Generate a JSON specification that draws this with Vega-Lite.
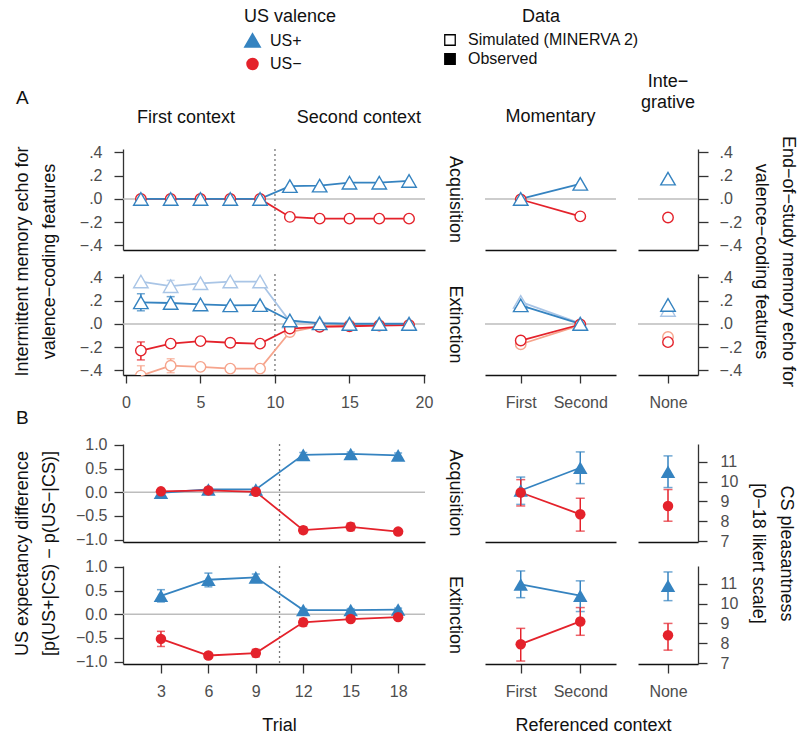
{
"$schema": "https://vega.github.io/schema/vega-lite/v6.json",
"background": "white",
"padding": {"left": 13, "top": 8, "right": 0, "bottom": 0},
"config": {
  "font": "Liberation Sans",
  "view": {"stroke": null},
  "axis": {"grid": false, "labelFlush": false, "labelOverlap": false, "labelColor": "#4d4d4d", "labelFontSize": 16, "titleFontSize": 18, "titleFontWeight": "normal", "titleColor": "#111111", "tickColor": "#333333", "domainColor": "#333333", "tickWidth": 1.3, "domainWidth": 1.3},
  "title": {"fontSize": 18, "fontWeight": "normal", "color": "#111111", "frame": "group"},
  "legend": {"titleFontWeight": "normal"}
},
"datasets": {
  "echoTrial": [
    {"phase":"Acquisition","model":"main","valence":"US−","trial":1,"echo":0},
    {"phase":"Acquisition","model":"main","valence":"US−","trial":3,"echo":0},
    {"phase":"Acquisition","model":"main","valence":"US−","trial":5,"echo":0},
    {"phase":"Acquisition","model":"main","valence":"US−","trial":7,"echo":0},
    {"phase":"Acquisition","model":"main","valence":"US−","trial":9,"echo":0},
    {"phase":"Acquisition","model":"main","valence":"US−","trial":11,"echo":-0.155,"lo":-0.172,"hi":-0.138},
    {"phase":"Acquisition","model":"main","valence":"US−","trial":13,"echo":-0.17},
    {"phase":"Acquisition","model":"main","valence":"US−","trial":15,"echo":-0.17},
    {"phase":"Acquisition","model":"main","valence":"US−","trial":17,"echo":-0.17},
    {"phase":"Acquisition","model":"main","valence":"US−","trial":19,"echo":-0.17},
    {"phase":"Acquisition","model":"main","valence":"US+","trial":1,"echo":0},
    {"phase":"Acquisition","model":"main","valence":"US+","trial":3,"echo":0},
    {"phase":"Acquisition","model":"main","valence":"US+","trial":5,"echo":0},
    {"phase":"Acquisition","model":"main","valence":"US+","trial":7,"echo":0},
    {"phase":"Acquisition","model":"main","valence":"US+","trial":9,"echo":0},
    {"phase":"Acquisition","model":"main","valence":"US+","trial":11,"echo":0.11},
    {"phase":"Acquisition","model":"main","valence":"US+","trial":13,"echo":0.115},
    {"phase":"Acquisition","model":"main","valence":"US+","trial":15,"echo":0.14},
    {"phase":"Acquisition","model":"main","valence":"US+","trial":17,"echo":0.14},
    {"phase":"Acquisition","model":"main","valence":"US+","trial":19,"echo":0.155},
    {"phase":"Extinction","model":"alt","valence":"US−","trial":1,"echo":-0.445,"lo":-0.5,"hi":-0.36},
    {"phase":"Extinction","model":"alt","valence":"US−","trial":3,"echo":-0.36,"lo":-0.42,"hi":-0.3},
    {"phase":"Extinction","model":"alt","valence":"US−","trial":5,"echo":-0.37},
    {"phase":"Extinction","model":"alt","valence":"US−","trial":7,"echo":-0.385},
    {"phase":"Extinction","model":"alt","valence":"US−","trial":9,"echo":-0.385},
    {"phase":"Extinction","model":"alt","valence":"US−","trial":11,"echo":-0.07},
    {"phase":"Extinction","model":"alt","valence":"US−","trial":13,"echo":-0.02},
    {"phase":"Extinction","model":"alt","valence":"US−","trial":15,"echo":-0.01},
    {"phase":"Extinction","model":"alt","valence":"US−","trial":17,"echo":-0.01},
    {"phase":"Extinction","model":"alt","valence":"US−","trial":19,"echo":-0.01},
    {"phase":"Extinction","model":"alt","valence":"US+","trial":1,"echo":0.365},
    {"phase":"Extinction","model":"alt","valence":"US+","trial":3,"echo":0.325,"lo":0.28,"hi":0.375},
    {"phase":"Extinction","model":"alt","valence":"US+","trial":5,"echo":0.35},
    {"phase":"Extinction","model":"alt","valence":"US+","trial":7,"echo":0.365},
    {"phase":"Extinction","model":"alt","valence":"US+","trial":9,"echo":0.365},
    {"phase":"Extinction","model":"alt","valence":"US+","trial":11,"echo":0.02},
    {"phase":"Extinction","model":"alt","valence":"US+","trial":13,"echo":0.01},
    {"phase":"Extinction","model":"alt","valence":"US+","trial":15,"echo":0.005},
    {"phase":"Extinction","model":"alt","valence":"US+","trial":17,"echo":0.005},
    {"phase":"Extinction","model":"alt","valence":"US+","trial":19,"echo":0.005},
    {"phase":"Extinction","model":"main","valence":"US−","trial":1,"echo":-0.23,"lo":-0.31,"hi":-0.155},
    {"phase":"Extinction","model":"main","valence":"US−","trial":3,"echo":-0.17},
    {"phase":"Extinction","model":"main","valence":"US−","trial":5,"echo":-0.148},
    {"phase":"Extinction","model":"main","valence":"US−","trial":7,"echo":-0.162},
    {"phase":"Extinction","model":"main","valence":"US−","trial":9,"echo":-0.17},
    {"phase":"Extinction","model":"main","valence":"US−","trial":11,"echo":-0.04},
    {"phase":"Extinction","model":"main","valence":"US−","trial":13,"echo":-0.025},
    {"phase":"Extinction","model":"main","valence":"US−","trial":15,"echo":-0.02},
    {"phase":"Extinction","model":"main","valence":"US−","trial":17,"echo":-0.015},
    {"phase":"Extinction","model":"main","valence":"US−","trial":19,"echo":-0.01},
    {"phase":"Extinction","model":"main","valence":"US+","trial":1,"echo":0.186,"lo":0.113,"hi":0.26},
    {"phase":"Extinction","model":"main","valence":"US+","trial":3,"echo":0.18,"lo":0.14,"hi":0.235},
    {"phase":"Extinction","model":"main","valence":"US+","trial":5,"echo":0.168},
    {"phase":"Extinction","model":"main","valence":"US+","trial":7,"echo":0.16},
    {"phase":"Extinction","model":"main","valence":"US+","trial":9,"echo":0.162},
    {"phase":"Extinction","model":"main","valence":"US+","trial":11,"echo":0.03},
    {"phase":"Extinction","model":"main","valence":"US+","trial":13,"echo":0.005},
    {"phase":"Extinction","model":"main","valence":"US+","trial":15,"echo":0},
    {"phase":"Extinction","model":"main","valence":"US+","trial":17,"echo":0},
    {"phase":"Extinction","model":"main","valence":"US+","trial":19,"echo":0}
  ],
  "echoEnd": [
    {"phase":"Acquisition","model":"main","valence":"US−","measure":"Momentary","context":"First","echo":-0.005},
    {"phase":"Acquisition","model":"main","valence":"US−","measure":"Momentary","context":"Second","echo":-0.15},
    {"phase":"Acquisition","model":"main","valence":"US−","measure":"Integrative","context":"None","echo":-0.16},
    {"phase":"Acquisition","model":"main","valence":"US+","measure":"Momentary","context":"First","echo":0},
    {"phase":"Acquisition","model":"main","valence":"US+","measure":"Momentary","context":"Second","echo":0.13},
    {"phase":"Acquisition","model":"main","valence":"US+","measure":"Integrative","context":"None","echo":0.175},
    {"phase":"Extinction","model":"alt","valence":"US−","measure":"Momentary","context":"First","echo":-0.175},
    {"phase":"Extinction","model":"alt","valence":"US−","measure":"Momentary","context":"Second","echo":-0.01},
    {"phase":"Extinction","model":"alt","valence":"US−","measure":"Integrative","context":"None","echo":-0.113},
    {"phase":"Extinction","model":"alt","valence":"US+","measure":"Momentary","context":"First","echo":0.19},
    {"phase":"Extinction","model":"alt","valence":"US+","measure":"Momentary","context":"Second","echo":0.005},
    {"phase":"Extinction","model":"alt","valence":"US+","measure":"Integrative","context":"None","echo":0.12},
    {"phase":"Extinction","model":"main","valence":"US−","measure":"Momentary","context":"First","echo":-0.143},
    {"phase":"Extinction","model":"main","valence":"US−","measure":"Momentary","context":"Second","echo":-0.005},
    {"phase":"Extinction","model":"main","valence":"US−","measure":"Integrative","context":"None","echo":-0.157},
    {"phase":"Extinction","model":"main","valence":"US+","measure":"Momentary","context":"First","echo":0.16},
    {"phase":"Extinction","model":"main","valence":"US+","measure":"Momentary","context":"Second","echo":0},
    {"phase":"Extinction","model":"main","valence":"US+","measure":"Integrative","context":"None","echo":0.163}
  ],
  "expTrial": [
    {"phase":"Acquisition","valence":"US+","trial":3,"value":-0.01,"lo":-0.05,"hi":0.03},
    {"phase":"Acquisition","valence":"US+","trial":6,"value":0.06,"lo":0.02,"hi":0.1},
    {"phase":"Acquisition","valence":"US+","trial":9,"value":0.06,"lo":0.02,"hi":0.1},
    {"phase":"Acquisition","valence":"US+","trial":12,"value":0.79,"lo":0.74,"hi":0.84},
    {"phase":"Acquisition","valence":"US+","trial":15,"value":0.81,"lo":0.77,"hi":0.85},
    {"phase":"Acquisition","valence":"US+","trial":18,"value":0.78,"lo":0.73,"hi":0.83},
    {"phase":"Acquisition","valence":"US−","trial":3,"value":0.02,"lo":-0.02,"hi":0.06},
    {"phase":"Acquisition","valence":"US−","trial":6,"value":0.04,"lo":0.0,"hi":0.08},
    {"phase":"Acquisition","valence":"US−","trial":9,"value":0.01,"lo":-0.02,"hi":0.04},
    {"phase":"Acquisition","valence":"US−","trial":12,"value":-0.8,"lo":-0.87,"hi":-0.73},
    {"phase":"Acquisition","valence":"US−","trial":15,"value":-0.73,"lo":-0.81,"hi":-0.65},
    {"phase":"Acquisition","valence":"US−","trial":18,"value":-0.83,"lo":-0.88,"hi":-0.78},
    {"phase":"Extinction","valence":"US+","trial":3,"value":0.39,"lo":0.26,"hi":0.52},
    {"phase":"Extinction","valence":"US+","trial":6,"value":0.73,"lo":0.58,"hi":0.87},
    {"phase":"Extinction","valence":"US+","trial":9,"value":0.78,"lo":0.71,"hi":0.85},
    {"phase":"Extinction","valence":"US+","trial":12,"value":0.09,"lo":0.06,"hi":0.12},
    {"phase":"Extinction","valence":"US+","trial":15,"value":0.09,"lo":0.06,"hi":0.12},
    {"phase":"Extinction","valence":"US+","trial":18,"value":0.1,"lo":0.07,"hi":0.13},
    {"phase":"Extinction","valence":"US−","trial":3,"value":-0.52,"lo":-0.68,"hi":-0.36},
    {"phase":"Extinction","valence":"US−","trial":6,"value":-0.87,"lo":-0.92,"hi":-0.82},
    {"phase":"Extinction","valence":"US−","trial":9,"value":-0.82,"lo":-0.9,"hi":-0.74},
    {"phase":"Extinction","valence":"US−","trial":12,"value":-0.17,"lo":-0.25,"hi":-0.09},
    {"phase":"Extinction","valence":"US−","trial":15,"value":-0.1,"lo":-0.15,"hi":-0.05},
    {"phase":"Extinction","valence":"US−","trial":18,"value":-0.06,"lo":-0.1,"hi":-0.02}
  ],
  "ratings": [
    {"phase":"Acquisition","valence":"US+","measure":"Momentary","context":"First","value":9.55,"lo":8.85,"hi":10.23},
    {"phase":"Acquisition","valence":"US+","measure":"Momentary","context":"Second","value":10.7,"lo":9.9,"hi":11.5},
    {"phase":"Acquisition","valence":"US+","measure":"Integrative","context":"None","value":10.5,"lo":9.7,"hi":11.3},
    {"phase":"Acquisition","valence":"US−","measure":"Momentary","context":"First","value":9.45,"lo":8.77,"hi":10.1},
    {"phase":"Acquisition","valence":"US−","measure":"Momentary","context":"Second","value":8.35,"lo":7.5,"hi":9.16},
    {"phase":"Acquisition","valence":"US−","measure":"Integrative","context":"None","value":8.77,"lo":8.0,"hi":9.6},
    {"phase":"Extinction","valence":"US+","measure":"Momentary","context":"First","value":10.97,"lo":10.3,"hi":11.65},
    {"phase":"Extinction","valence":"US+","measure":"Momentary","context":"Second","value":10.4,"lo":9.6,"hi":11.15},
    {"phase":"Extinction","valence":"US+","measure":"Integrative","context":"None","value":10.9,"lo":10.15,"hi":11.6},
    {"phase":"Extinction","valence":"US−","measure":"Momentary","context":"First","value":7.95,"lo":7.1,"hi":8.75},
    {"phase":"Extinction","valence":"US−","measure":"Momentary","context":"Second","value":9.1,"lo":8.4,"hi":9.8},
    {"phase":"Extinction","valence":"US−","measure":"Integrative","context":"None","value":8.4,"lo":7.65,"hi":9.0}
  ]
},
"columns": 4,
"bounds": "flush",
"align": "each",
"spacing": {"row": 24, "column": 22},
"resolve": {"scale": {"color": "shared", "shape": "shared", "size": "shared", "fill": "shared"}, "legend": {"color": "shared", "fill": "shared"}},
"concat": [
  {
    "width": 302, "height": 101,
    "title": {"text": "A", "anchor": "start", "dx": -107, "offset": 0, "fontSize": 19},
    "resolve": {"axis": {"x": "independent"}},
    "layer": [
      {"data": {"values": [{}]}, "mark": {"type": "rule", "color": "#bdbdbd", "strokeWidth": 1.5},
       "encoding": {"y": {"datum": 0, "type": "quantitative", "scale": {"domain": [-0.44, 0.43], "nice": false, "zero": false},
         "axis": {"orient": "left", "values": [-0.4, -0.2, 0, 0.2, 0.4], "tickCount": 5, "labelOverlap": false, "labelExpr": "replace(format(datum.value, '.1f'), '0.', '.')", "tickSize": 9, "labelPadding": 12,
                  "title": ["Intermittent memory echo for", "valence−coding features"], "titleY": 112, "titlePadding": 21, "titleLineHeight": 27}}}},
      {"data": {"values": [{}]}, "mark": {"type": "rule", "color": "#777777", "strokeDash": [2, 3], "strokeWidth": 1.3},
       "encoding": {"x": {"datum": 10, "type": "quantitative", "scale": {"domain": [-0.2, 20.07], "nice": false, "zero": false},
         "axis": {"orient": "top", "values": [4, 15.6], "labelExpr": "datum.value < 10 ? 'First context' : 'Second context'", "domain": false, "ticks": false, "tickSize": 0, "labelPadding": 23, "labelFontSize": 18, "labelColor": "#111111", "title": null}}}},
      {"data": {"values": [{}]}, "mark": {"type": "point", "shape": "square", "opacity": 0},
       "encoding": {"fill": {"datum": "Simulated (MINERVA 2)", "type": "nominal", "scale": {"domain": ["Simulated (MINERVA 2)", "Observed"], "range": ["#ffffff", "#000000"]},
           "legend": {"title": "Data", "orient": "none", "legendX": 319, "legendY": -141, "titleAnchor": "middle",
             "titleFontSize": 18, "titleColor": "#111111", "titlePadding": 6, "labelFontSize": 16, "labelColor": "#111111", "labelOffset": 10, "labelLimit": 400,
             "symbolType": "square", "symbolSize": 110, "symbolStrokeColor": "#000000", "symbolStrokeWidth": 1.3, "symbolOpacity": 1, "rowPadding": 3, "padding": 0}}}},
      {"data": {"name": "echoTrial"}, "transform": [{"filter": "datum.phase === 'Acquisition' && datum.model === 'main'"}],
       "mark": {"type": "line", "strokeWidth": 1.8},
       "encoding": {
         "x": {"field": "trial", "type": "quantitative", "scale": {"domain": [-0.2, 20.07], "nice": false, "zero": false}, "axis": {"orient": "bottom", "labels": false, "ticks": false, "title": null, "domainColor": "#111111"}},
         "y": {"field": "echo", "type": "quantitative", "scale": {"domain": [-0.44, 0.43], "nice": false, "zero": false}},
         "color": {"field": "valence", "type": "nominal", "scale": {"domain": ["US+", "US−"], "range": ["#3583c0", "#e4222b"]},
           "legend": {"title": "US valence", "orient": "none", "legendX": 121, "legendY": -141, "values": ["US+", "US−"],
             "titleFontSize": 18, "titleColor": "#111111", "titlePadding": 6, "labelFontSize": 16, "labelColor": "#111111", "labelOffset": 9,
             "symbolSize": 150, "symbolStrokeWidth": 2, "rowPadding": 3, "padding": 0}}}},
      {"data": {"name": "echoTrial"}, "transform": [{"filter": "datum.phase === 'Acquisition' && datum.model === 'main' && isValid(datum.lo)"}],
       "mark": {"type": "errorbar", "ticks": {"size": 8}, "thickness": 1.5},
       "encoding": {
         "x": {"field": "trial", "type": "quantitative", "scale": {"domain": [-0.2, 20.07], "nice": false, "zero": false}, "axis": null},
         "y": {"field": "lo", "type": "quantitative", "title": ["Intermittent memory echo for", "valence−coding features"], "scale": {"domain": [-0.44, 0.43], "nice": false, "zero": false}},
         "y2": {"field": "hi"},
         "color": {"field": "valence", "type": "nominal", "scale": {"domain": ["US+", "US−"], "range": ["#3583c0", "#e4222b"]}, "legend": null}}},
      {"data": {"name": "echoTrial"}, "transform": [{"filter": "datum.phase === 'Acquisition' && datum.model === 'main'"}],
       "mark": {"type": "point", "filled": false, "fill": "white", "strokeWidth": 1.4, "opacity": 1},
       "encoding": {
         "x": {"field": "trial", "type": "quantitative", "scale": {"domain": [-0.2, 20.07], "nice": false, "zero": false}, "axis": null},
         "y": {"field": "echo", "type": "quantitative", "scale": {"domain": [-0.44, 0.43], "nice": false, "zero": false}},
         "color": {"field": "valence", "type": "nominal", "scale": {"domain": ["US+", "US−"], "range": ["#3583c0", "#e4222b"]}, "legend": null},
         "shape": {"field": "valence", "type": "nominal", "scale": {"domain": ["US+", "US−"], "range": ["triangle-up", "circle"]}, "legend": null},
         "size": {"field": "valence", "type": "ordinal", "scale": {"domain": ["US+", "US−"], "range": [210, 110]}, "legend": null}}}
    ]
  },
  {
    "width": 16, "height": 101,
    "data": {"values": [{"label": "Acquisition"}]},
    "mark": {"type": "text", "angle": 90, "fontSize": 18, "color": "#111111"},
    "encoding": {"text": {"field": "label"}}
  },
  {
    "width": 131, "height": 101,
    "title": {"text": "Momentary", "offset": 23},
    "layer": [
      {"data": {"values": [{}]}, "mark": {"type": "rule", "color": "#bdbdbd", "strokeWidth": 1.5},
       "encoding": {"y": {"datum": 0, "type": "quantitative", "scale": {"domain": [-0.44, 0.43], "nice": false, "zero": false}, "axis": null}}},
      {"data": {"name": "echoEnd"}, "transform": [{"filter": "datum.phase === 'Acquisition' && datum.model === 'main' && datum.measure === 'Momentary'"}],
       "mark": {"type": "line", "strokeWidth": 1.8},
       "encoding": {
         "x": {"field": "context", "type": "nominal", "scale": {"type": "point", "domain": ["First", "Second"], "padding": 0.6}, "axis": {"orient": "bottom", "labels": false, "ticks": false, "title": null, "domainColor": "#111111"}},
         "y": {"field": "echo", "type": "quantitative", "scale": {"domain": [-0.44, 0.43], "nice": false, "zero": false}, "axis": null},
         "color": {"field": "valence", "type": "nominal", "scale": {"domain": ["US+", "US−"], "range": ["#3583c0", "#e4222b"]}, "legend": null}}},
      {"data": {"name": "echoEnd"}, "transform": [{"filter": "datum.phase === 'Acquisition' && datum.model === 'main' && datum.measure === 'Momentary'"}],
       "mark": {"type": "point", "filled": false, "fill": "white", "strokeWidth": 1.4, "opacity": 1},
       "encoding": {
         "x": {"field": "context", "type": "nominal", "scale": {"type": "point", "domain": ["First", "Second"], "padding": 0.6}},
         "y": {"field": "echo", "type": "quantitative", "scale": {"domain": [-0.44, 0.43], "nice": false, "zero": false}, "axis": null},
         "color": {"field": "valence", "type": "nominal", "scale": {"domain": ["US+", "US−"], "range": ["#3583c0", "#e4222b"]}, "legend": null},
         "shape": {"field": "valence", "type": "nominal", "scale": {"domain": ["US+", "US−"], "range": ["triangle-up", "circle"]}, "legend": null},
         "size": {"field": "valence", "type": "ordinal", "scale": {"domain": ["US+", "US−"], "range": [210, 110]}, "legend": null}}}
    ]
  },
  {
    "width": 60, "height": 101,
    "title": {"text": ["Inte−", "grative"], "offset": 23, "lineHeight": 21},
    "layer": [
      {"data": {"values": [{}]}, "mark": {"type": "rule", "color": "#bdbdbd", "strokeWidth": 1.5},
       "encoding": {"y": {"datum": 0, "type": "quantitative", "scale": {"domain": [-0.44, 0.43], "nice": false, "zero": false},
         "axis": {"orient": "right", "values": [-0.4, -0.2, 0, 0.2, 0.4], "tickCount": 5, "labelOverlap": false, "labelExpr": "replace(format(datum.value, '.1f'), '0.', '.')", "tickSize": 10, "labelPadding": 11,
                  "title": ["End−of−study memory echo for", "valence−coding features"], "titleAngle": 90, "titleY": 112, "titlePadding": 10, "titleLineHeight": 27}}}},
      {"data": {"name": "echoEnd"}, "transform": [{"filter": "datum.phase === 'Acquisition' && datum.model === 'main' && datum.measure === 'Integrative'"}],
       "mark": {"type": "point", "filled": false, "fill": "white", "strokeWidth": 1.4, "opacity": 1},
       "encoding": {
         "x": {"field": "context", "type": "nominal", "scale": {"type": "point", "domain": ["None"], "padding": 0.5}, "axis": {"orient": "bottom", "labels": false, "ticks": false, "title": null, "domainColor": "#111111"}},
         "y": {"field": "echo", "type": "quantitative", "scale": {"domain": [-0.44, 0.43], "nice": false, "zero": false}},
         "color": {"field": "valence", "type": "nominal", "scale": {"domain": ["US+", "US−"], "range": ["#3583c0", "#e4222b"]}, "legend": null},
         "shape": {"field": "valence", "type": "nominal", "scale": {"domain": ["US+", "US−"], "range": ["triangle-up", "circle"]}, "legend": null},
         "size": {"field": "valence", "type": "ordinal", "scale": {"domain": ["US+", "US−"], "range": [210, 110]}, "legend": null}}}
    ]
  },
  {
    "width": 302, "height": 101,
    "layer": [
      {"data": {"values": [{}]}, "mark": {"type": "rule", "color": "#bdbdbd", "strokeWidth": 1.5},
       "encoding": {"y": {"datum": 0, "type": "quantitative", "scale": {"domain": [-0.44, 0.43], "nice": false, "zero": false},
         "axis": {"orient": "left", "values": [-0.4, -0.2, 0, 0.2, 0.4], "tickCount": 5, "labelOverlap": false, "labelExpr": "replace(format(datum.value, '.1f'), '0.', '.')", "tickSize": 9, "labelPadding": 12, "title": null}}}},
      {"data": {"values": [{}]}, "mark": {"type": "rule", "color": "#777777", "strokeDash": [2, 3], "strokeWidth": 1.3},
       "encoding": {"x": {"datum": 10, "type": "quantitative", "scale": {"domain": [-0.2, 20.07], "nice": false, "zero": false},
         "axis": {"orient": "bottom", "values": [0, 5, 10, 15, 20], "tickSize": 8, "labelPadding": 11, "title": null, "domainColor": "#111111"}}}},
      {"data": {"name": "echoTrial"}, "transform": [{"filter": "datum.phase === 'Extinction' && datum.model === 'alt'"}],
       "mark": {"type": "line", "strokeWidth": 1.8},
       "encoding": {
         "x": {"field": "trial", "type": "quantitative", "scale": {"domain": [-0.2, 20.07], "nice": false, "zero": false}},
         "y": {"field": "echo", "type": "quantitative", "scale": {"domain": [-0.44, 0.43], "nice": false, "zero": false}},
         "detail": {"field": "valence"},
         "color": {"condition": {"test": "datum.valence === 'US+'", "value": "#a9c5e6"}, "value": "#f6a48c"}}},
      {"data": {"name": "echoTrial"}, "transform": [{"filter": "datum.phase === 'Extinction' && datum.model === 'alt' && isValid(datum.lo)"}],
       "mark": {"type": "errorbar", "ticks": {"size": 8}, "thickness": 1.5, "clip": true},
       "encoding": {
         "x": {"field": "trial", "type": "quantitative", "scale": {"domain": [-0.2, 20.07], "nice": false, "zero": false}},
         "y": {"field": "lo", "type": "quantitative", "scale": {"domain": [-0.44, 0.43], "nice": false, "zero": false}},
         "y2": {"field": "hi"},
         "color": {"condition": {"test": "datum.valence === 'US+'", "value": "#a9c5e6"}, "value": "#f6a48c"}}},
      {"data": {"name": "echoTrial"}, "transform": [{"filter": "datum.phase === 'Extinction' && datum.model === 'alt'"}],
       "mark": {"type": "point", "filled": false, "fill": "white", "strokeWidth": 1.4, "opacity": 1, "clip": true},
       "encoding": {
         "x": {"field": "trial", "type": "quantitative", "scale": {"domain": [-0.2, 20.07], "nice": false, "zero": false}},
         "y": {"field": "echo", "type": "quantitative", "scale": {"domain": [-0.44, 0.43], "nice": false, "zero": false}},
         "color": {"condition": {"test": "datum.valence === 'US+'", "value": "#a9c5e6"}, "value": "#f6a48c"},
         "shape": {"field": "valence", "type": "nominal", "scale": {"domain": ["US+", "US−"], "range": ["triangle-up", "circle"]}, "legend": null},
         "size": {"field": "valence", "type": "ordinal", "scale": {"domain": ["US+", "US−"], "range": [210, 110]}, "legend": null}}},
      {"data": {"name": "echoTrial"}, "transform": [{"filter": "datum.phase === 'Extinction' && datum.model === 'main'"}],
       "mark": {"type": "line", "strokeWidth": 1.8},
       "encoding": {
         "x": {"field": "trial", "type": "quantitative", "scale": {"domain": [-0.2, 20.07], "nice": false, "zero": false}},
         "y": {"field": "echo", "type": "quantitative", "scale": {"domain": [-0.44, 0.43], "nice": false, "zero": false}},
         "color": {"field": "valence", "type": "nominal", "scale": {"domain": ["US+", "US−"], "range": ["#3583c0", "#e4222b"]}, "legend": null}}},
      {"data": {"name": "echoTrial"}, "transform": [{"filter": "datum.phase === 'Extinction' && datum.model === 'main' && isValid(datum.lo)"}],
       "mark": {"type": "errorbar", "ticks": {"size": 8}, "thickness": 1.5},
       "encoding": {
         "x": {"field": "trial", "type": "quantitative", "scale": {"domain": [-0.2, 20.07], "nice": false, "zero": false}},
         "y": {"field": "lo", "type": "quantitative", "scale": {"domain": [-0.44, 0.43], "nice": false, "zero": false}},
         "y2": {"field": "hi"},
         "color": {"field": "valence", "type": "nominal", "scale": {"domain": ["US+", "US−"], "range": ["#3583c0", "#e4222b"]}, "legend": null}}},
      {"data": {"name": "echoTrial"}, "transform": [{"filter": "datum.phase === 'Extinction' && datum.model === 'main'"}],
       "mark": {"type": "point", "filled": false, "fill": "white", "strokeWidth": 1.4, "opacity": 1},
       "encoding": {
         "x": {"field": "trial", "type": "quantitative", "scale": {"domain": [-0.2, 20.07], "nice": false, "zero": false}},
         "y": {"field": "echo", "type": "quantitative", "scale": {"domain": [-0.44, 0.43], "nice": false, "zero": false}},
         "color": {"field": "valence", "type": "nominal", "scale": {"domain": ["US+", "US−"], "range": ["#3583c0", "#e4222b"]}, "legend": null},
         "shape": {"field": "valence", "type": "nominal", "scale": {"domain": ["US+", "US−"], "range": ["triangle-up", "circle"]}, "legend": null},
         "size": {"field": "valence", "type": "ordinal", "scale": {"domain": ["US+", "US−"], "range": [210, 110]}, "legend": null}}}
    ]
  },
  {
    "width": 16, "height": 101,
    "data": {"values": [{"label": "Extinction"}]},
    "mark": {"type": "text", "angle": 90, "fontSize": 18, "color": "#111111"},
    "encoding": {"text": {"field": "label"}}
  },
  {
    "width": 131, "height": 101,
    "layer": [
      {"data": {"values": [{}]}, "mark": {"type": "rule", "color": "#bdbdbd", "strokeWidth": 1.5},
       "encoding": {"y": {"datum": 0, "type": "quantitative", "scale": {"domain": [-0.44, 0.43], "nice": false, "zero": false}, "axis": null}}},
      {"data": {"name": "echoEnd"}, "transform": [{"filter": "datum.phase === 'Extinction' && datum.model === 'alt' && datum.measure === 'Momentary'"}],
       "mark": {"type": "line", "strokeWidth": 1.8},
       "encoding": {
         "x": {"field": "context", "type": "nominal", "scale": {"type": "point", "domain": ["First", "Second"], "padding": 0.6}, "axis": {"orient": "bottom", "ticks": true, "tickSize": 8, "labelPadding": 11, "labelAlign": "center", "title": null, "domainColor": "#111111", "labelAngle": 0}},
         "y": {"field": "echo", "type": "quantitative", "scale": {"domain": [-0.44, 0.43], "nice": false, "zero": false}, "axis": null},
         "detail": {"field": "valence"},
         "color": {"condition": {"test": "datum.valence === 'US+'", "value": "#a9c5e6"}, "value": "#f6a48c"}}},
      {"data": {"name": "echoEnd"}, "transform": [{"filter": "datum.phase === 'Extinction' && datum.model === 'alt' && datum.measure === 'Momentary'"}],
       "mark": {"type": "point", "filled": false, "fill": "white", "strokeWidth": 1.4, "opacity": 1},
       "encoding": {
         "x": {"field": "context", "type": "nominal", "scale": {"type": "point", "domain": ["First", "Second"], "padding": 0.6}},
         "y": {"field": "echo", "type": "quantitative", "scale": {"domain": [-0.44, 0.43], "nice": false, "zero": false}, "axis": null},
         "color": {"condition": {"test": "datum.valence === 'US+'", "value": "#a9c5e6"}, "value": "#f6a48c"},
         "shape": {"field": "valence", "type": "nominal", "scale": {"domain": ["US+", "US−"], "range": ["triangle-up", "circle"]}, "legend": null},
         "size": {"field": "valence", "type": "ordinal", "scale": {"domain": ["US+", "US−"], "range": [210, 110]}, "legend": null}}},
      {"data": {"name": "echoEnd"}, "transform": [{"filter": "datum.phase === 'Extinction' && datum.model === 'main' && datum.measure === 'Momentary'"}],
       "mark": {"type": "line", "strokeWidth": 1.8},
       "encoding": {
         "x": {"field": "context", "type": "nominal", "scale": {"type": "point", "domain": ["First", "Second"], "padding": 0.6}},
         "y": {"field": "echo", "type": "quantitative", "scale": {"domain": [-0.44, 0.43], "nice": false, "zero": false}, "axis": null},
         "color": {"field": "valence", "type": "nominal", "scale": {"domain": ["US+", "US−"], "range": ["#3583c0", "#e4222b"]}, "legend": null}}},
      {"data": {"name": "echoEnd"}, "transform": [{"filter": "datum.phase === 'Extinction' && datum.model === 'main' && datum.measure === 'Momentary'"}],
       "mark": {"type": "point", "filled": false, "fill": "white", "strokeWidth": 1.4, "opacity": 1},
       "encoding": {
         "x": {"field": "context", "type": "nominal", "scale": {"type": "point", "domain": ["First", "Second"], "padding": 0.6}},
         "y": {"field": "echo", "type": "quantitative", "scale": {"domain": [-0.44, 0.43], "nice": false, "zero": false}, "axis": null},
         "color": {"field": "valence", "type": "nominal", "scale": {"domain": ["US+", "US−"], "range": ["#3583c0", "#e4222b"]}, "legend": null},
         "shape": {"field": "valence", "type": "nominal", "scale": {"domain": ["US+", "US−"], "range": ["triangle-up", "circle"]}, "legend": null},
         "size": {"field": "valence", "type": "ordinal", "scale": {"domain": ["US+", "US−"], "range": [210, 110]}, "legend": null}}}
    ]
  },
  {
    "width": 60, "height": 101,
    "layer": [
      {"data": {"values": [{}]}, "mark": {"type": "rule", "color": "#bdbdbd", "strokeWidth": 1.5},
       "encoding": {"y": {"datum": 0, "type": "quantitative", "scale": {"domain": [-0.44, 0.43], "nice": false, "zero": false},
         "axis": {"orient": "right", "values": [-0.4, -0.2, 0, 0.2, 0.4], "tickCount": 5, "labelOverlap": false, "labelExpr": "replace(format(datum.value, '.1f'), '0.', '.')", "tickSize": 10, "labelPadding": 11, "title": null}}}},
      {"data": {"name": "echoEnd"}, "transform": [{"filter": "datum.phase === 'Extinction' && datum.model === 'alt' && datum.measure === 'Integrative'"}],
       "mark": {"type": "point", "filled": false, "fill": "white", "strokeWidth": 1.4, "opacity": 1},
       "encoding": {
         "x": {"field": "context", "type": "nominal", "scale": {"type": "point", "domain": ["None"], "padding": 0.5}, "axis": {"orient": "bottom", "ticks": true, "tickSize": 8, "labelPadding": 11, "labelAlign": "center", "title": null, "domainColor": "#111111", "labelAngle": 0}},
         "y": {"field": "echo", "type": "quantitative", "scale": {"domain": [-0.44, 0.43], "nice": false, "zero": false}},
         "color": {"condition": {"test": "datum.valence === 'US+'", "value": "#a9c5e6"}, "value": "#f6a48c"},
         "shape": {"field": "valence", "type": "nominal", "scale": {"domain": ["US+", "US−"], "range": ["triangle-up", "circle"]}, "legend": null},
         "size": {"field": "valence", "type": "ordinal", "scale": {"domain": ["US+", "US−"], "range": [210, 110]}, "legend": null}}},
      {"data": {"name": "echoEnd"}, "transform": [{"filter": "datum.phase === 'Extinction' && datum.model === 'main' && datum.measure === 'Integrative'"}],
       "mark": {"type": "point", "filled": false, "fill": "white", "strokeWidth": 1.4, "opacity": 1},
       "encoding": {
         "x": {"field": "context", "type": "nominal", "scale": {"type": "point", "domain": ["None"], "padding": 0.5}},
         "y": {"field": "echo", "type": "quantitative", "scale": {"domain": [-0.44, 0.43], "nice": false, "zero": false}},
         "color": {"field": "valence", "type": "nominal", "scale": {"domain": ["US+", "US−"], "range": ["#3583c0", "#e4222b"]}, "legend": null},
         "shape": {"field": "valence", "type": "nominal", "scale": {"domain": ["US+", "US−"], "range": ["triangle-up", "circle"]}, "legend": null},
         "size": {"field": "valence", "type": "ordinal", "scale": {"domain": ["US+", "US−"], "range": [210, 110]}, "legend": null}}}
    ]
  },
  {"width": 302, "height": 21, "data": {"values": [{"label": ""}]}, "mark": {"type": "text"}, "encoding": {"text": {"field": "label"}}},
  {"width": 16, "height": 21, "data": {"values": [{"label": ""}]}, "mark": {"type": "text"}, "encoding": {"text": {"field": "label"}}},
  {"width": 131, "height": 21, "data": {"values": [{"label": ""}]}, "mark": {"type": "text"}, "encoding": {"text": {"field": "label"}}},
  {"width": 60, "height": 21, "data": {"values": [{"label": ""}]}, "mark": {"type": "text"}, "encoding": {"text": {"field": "label"}}},
  {
    "width": 302, "height": 98,
    "title": {"text": "B", "anchor": "start", "dx": -107, "offset": 9, "fontSize": 19},
    "layer": [
      {"data": {"values": [{}]}, "mark": {"type": "rule", "color": "#bdbdbd", "strokeWidth": 1.5},
       "encoding": {"y": {"datum": 0, "type": "quantitative", "scale": {"domain": [-1.05, 1.02], "nice": false, "zero": false},
         "axis": {"orient": "left", "values": [-1, -0.5, 0, 0.5, 1], "tickCount": 5, "labelOverlap": false, "format": ".1f", "tickSize": 9, "labelPadding": 7,
                  "title": ["US expectancy difference", "[p(US+|CS) − p(US−|CS)]"], "titleY": 109, "titlePadding": 17, "titleLineHeight": 27}}}},
      {"data": {"values": [{}]}, "mark": {"type": "rule", "color": "#777777", "strokeDash": [2, 3], "strokeWidth": 1.3},
       "encoding": {"x": {"datum": 10.5, "type": "quantitative", "scale": {"domain": [0.6, 19.7], "nice": false, "zero": false}}}},
      {"data": {"name": "expTrial"}, "transform": [{"filter": "datum.phase === 'Acquisition'"}],
       "mark": {"type": "line", "strokeWidth": 1.8},
       "encoding": {
         "x": {"field": "trial", "type": "quantitative", "scale": {"domain": [0.6, 19.7], "nice": false, "zero": false}, "axis": {"orient": "bottom", "labels": false, "ticks": false, "title": null, "domainColor": "#111111"}},
         "y": {"field": "value", "type": "quantitative", "scale": {"domain": [-1.05, 1.02], "nice": false, "zero": false}},
         "color": {"field": "valence", "type": "nominal", "scale": {"domain": ["US+", "US−"], "range": ["#3583c0", "#e4222b"]}, "legend": null}}},
      {"data": {"name": "expTrial"}, "transform": [{"filter": "datum.phase === 'Acquisition'"}],
       "mark": {"type": "errorbar", "ticks": {"size": 8}, "thickness": 1.5},
       "encoding": {
         "x": {"field": "trial", "type": "quantitative", "scale": {"domain": [0.6, 19.7], "nice": false, "zero": false}},
         "y": {"field": "lo", "type": "quantitative", "title": ["US expectancy difference", "[p(US+|CS) − p(US−|CS)]"], "scale": {"domain": [-1.05, 1.02], "nice": false, "zero": false}},
         "y2": {"field": "hi"},
         "color": {"field": "valence", "type": "nominal", "scale": {"domain": ["US+", "US−"], "range": ["#3583c0", "#e4222b"]}, "legend": null}}},
      {"data": {"name": "expTrial"}, "transform": [{"filter": "datum.phase === 'Acquisition'"}],
       "mark": {"type": "point", "filled": true, "opacity": 1},
       "encoding": {
         "x": {"field": "trial", "type": "quantitative", "scale": {"domain": [0.6, 19.7], "nice": false, "zero": false}},
         "y": {"field": "value", "type": "quantitative", "scale": {"domain": [-1.05, 1.02], "nice": false, "zero": false}},
         "color": {"field": "valence", "type": "nominal", "scale": {"domain": ["US+", "US−"], "range": ["#3583c0", "#e4222b"]}, "legend": null},
         "shape": {"field": "valence", "type": "nominal", "scale": {"domain": ["US+", "US−"], "range": ["triangle-up", "circle"]}, "legend": null},
         "size": {"field": "valence", "type": "ordinal", "scale": {"domain": ["US+", "US−"], "range": [210, 110]}, "legend": null}}}
    ]
  },
  {
    "width": 16, "height": 98,
    "data": {"values": [{"label": "Acquisition"}]},
    "mark": {"type": "text", "angle": 90, "fontSize": 18, "color": "#111111"},
    "encoding": {"text": {"field": "label"}}
  },
  {
    "width": 131, "height": 98,
    "layer": [
      {"data": {"name": "ratings"}, "transform": [{"filter": "datum.phase === 'Acquisition' && datum.measure === 'Momentary'"}],
       "mark": {"type": "line", "strokeWidth": 1.8},
       "encoding": {
         "x": {"field": "context", "type": "nominal", "scale": {"type": "point", "domain": ["First", "Second"], "padding": 0.6}, "axis": {"orient": "bottom", "labels": false, "ticks": false, "title": null, "domainColor": "#111111"}},
         "y": {"field": "value", "type": "quantitative", "scale": {"domain": [6.95, 11.9], "nice": false, "zero": false}, "axis": null},
         "color": {"field": "valence", "type": "nominal", "scale": {"domain": ["US+", "US−"], "range": ["#3583c0", "#e4222b"]}, "legend": null}}},
      {"data": {"name": "ratings"}, "transform": [{"filter": "datum.phase === 'Acquisition' && datum.measure === 'Momentary'"}],
       "mark": {"type": "errorbar", "ticks": {"size": 9}, "thickness": 1.5},
       "encoding": {
         "x": {"field": "context", "type": "nominal", "scale": {"type": "point", "domain": ["First", "Second"], "padding": 0.6}},
         "y": {"field": "lo", "type": "quantitative", "scale": {"domain": [6.95, 11.9], "nice": false, "zero": false}, "axis": null},
         "y2": {"field": "hi"},
         "color": {"field": "valence", "type": "nominal", "scale": {"domain": ["US+", "US−"], "range": ["#3583c0", "#e4222b"]}, "legend": null}}},
      {"data": {"name": "ratings"}, "transform": [{"filter": "datum.phase === 'Acquisition' && datum.measure === 'Momentary'"}],
       "mark": {"type": "point", "filled": true, "opacity": 1},
       "encoding": {
         "x": {"field": "context", "type": "nominal", "scale": {"type": "point", "domain": ["First", "Second"], "padding": 0.6}},
         "y": {"field": "value", "type": "quantitative", "scale": {"domain": [6.95, 11.9], "nice": false, "zero": false}, "axis": null},
         "color": {"field": "valence", "type": "nominal", "scale": {"domain": ["US+", "US−"], "range": ["#3583c0", "#e4222b"]}, "legend": null},
         "shape": {"field": "valence", "type": "nominal", "scale": {"domain": ["US+", "US−"], "range": ["triangle-up", "circle"]}, "legend": null},
         "size": {"field": "valence", "type": "ordinal", "scale": {"domain": ["US+", "US−"], "range": [210, 110]}, "legend": null}}}
    ]
  },
  {
    "width": 60, "height": 98,
    "layer": [
      {"data": {"name": "ratings"}, "transform": [{"filter": "datum.phase === 'Acquisition' && datum.measure === 'Integrative'"}],
       "mark": {"type": "errorbar", "ticks": {"size": 9}, "thickness": 1.5},
       "encoding": {
         "x": {"field": "context", "type": "nominal", "scale": {"type": "point", "domain": ["None"], "padding": 0.5}, "axis": {"orient": "bottom", "labels": false, "ticks": false, "title": null, "domainColor": "#111111"}},
         "y": {"field": "lo", "type": "quantitative", "title": ["CS pleasantness", "[0−18 likert scale]"], "scale": {"domain": [6.95, 11.9], "nice": false, "zero": false}},
         "y2": {"field": "hi"},
         "color": {"field": "valence", "type": "nominal", "scale": {"domain": ["US+", "US−"], "range": ["#3583c0", "#e4222b"]}, "legend": null}}},
      {"data": {"name": "ratings"}, "transform": [{"filter": "datum.phase === 'Acquisition' && datum.measure === 'Integrative'"}],
       "mark": {"type": "point", "filled": true, "opacity": 1},
       "encoding": {
         "x": {"field": "context", "type": "nominal", "scale": {"type": "point", "domain": ["None"], "padding": 0.5}},
         "y": {"field": "value", "type": "quantitative", "scale": {"domain": [6.95, 11.9], "nice": false, "zero": false},
           "axis": {"orient": "right", "values": [7, 8, 9, 10, 11], "tickCount": 5, "labelOverlap": false, "tickSize": 9, "labelPadding": 13,
                    "title": ["CS pleasantness", "[0−18 likert scale]"], "titleAngle": 90, "titleY": 109, "titlePadding": 11, "titleLineHeight": 28}},
         "color": {"field": "valence", "type": "nominal", "scale": {"domain": ["US+", "US−"], "range": ["#3583c0", "#e4222b"]}, "legend": null},
         "shape": {"field": "valence", "type": "nominal", "scale": {"domain": ["US+", "US−"], "range": ["triangle-up", "circle"]}, "legend": null},
         "size": {"field": "valence", "type": "ordinal", "scale": {"domain": ["US+", "US−"], "range": [210, 110]}, "legend": null}}}
    ]
  },
  {
    "width": 302, "height": 98,
    "layer": [
      {"data": {"values": [{}]}, "mark": {"type": "rule", "color": "#bdbdbd", "strokeWidth": 1.5},
       "encoding": {"y": {"datum": 0, "type": "quantitative", "scale": {"domain": [-1.05, 1.02], "nice": false, "zero": false},
         "axis": {"orient": "left", "values": [-1, -0.5, 0, 0.5, 1], "tickCount": 5, "labelOverlap": false, "format": ".1f", "tickSize": 9, "labelPadding": 7, "title": null}}}},
      {"data": {"values": [{}]}, "mark": {"type": "rule", "color": "#777777", "strokeDash": [2, 3], "strokeWidth": 1.3},
       "encoding": {"x": {"datum": 10.5, "type": "quantitative", "scale": {"domain": [0.6, 19.7], "nice": false, "zero": false},
         "axis": {"orient": "bottom", "values": [3, 6, 9, 12, 15, 18], "tickSize": 9, "labelPadding": 10, "title": "Trial", "titleX": 156, "titlePadding": 17, "domainColor": "#111111"}}}},
      {"data": {"name": "expTrial"}, "transform": [{"filter": "datum.phase === 'Extinction'"}],
       "mark": {"type": "line", "strokeWidth": 1.8},
       "encoding": {
         "x": {"field": "trial", "type": "quantitative", "scale": {"domain": [0.6, 19.7], "nice": false, "zero": false}},
         "y": {"field": "value", "type": "quantitative", "scale": {"domain": [-1.05, 1.02], "nice": false, "zero": false}},
         "color": {"field": "valence", "type": "nominal", "scale": {"domain": ["US+", "US−"], "range": ["#3583c0", "#e4222b"]}, "legend": null}}},
      {"data": {"name": "expTrial"}, "transform": [{"filter": "datum.phase === 'Extinction'"}],
       "mark": {"type": "errorbar", "ticks": {"size": 8}, "thickness": 1.5},
       "encoding": {
         "x": {"field": "trial", "type": "quantitative", "scale": {"domain": [0.6, 19.7], "nice": false, "zero": false}},
         "y": {"field": "lo", "type": "quantitative", "scale": {"domain": [-1.05, 1.02], "nice": false, "zero": false}},
         "y2": {"field": "hi"},
         "color": {"field": "valence", "type": "nominal", "scale": {"domain": ["US+", "US−"], "range": ["#3583c0", "#e4222b"]}, "legend": null}}},
      {"data": {"name": "expTrial"}, "transform": [{"filter": "datum.phase === 'Extinction'"}],
       "mark": {"type": "point", "filled": true, "opacity": 1},
       "encoding": {
         "x": {"field": "trial", "type": "quantitative", "scale": {"domain": [0.6, 19.7], "nice": false, "zero": false}},
         "y": {"field": "value", "type": "quantitative", "scale": {"domain": [-1.05, 1.02], "nice": false, "zero": false}},
         "color": {"field": "valence", "type": "nominal", "scale": {"domain": ["US+", "US−"], "range": ["#3583c0", "#e4222b"]}, "legend": null},
         "shape": {"field": "valence", "type": "nominal", "scale": {"domain": ["US+", "US−"], "range": ["triangle-up", "circle"]}, "legend": null},
         "size": {"field": "valence", "type": "ordinal", "scale": {"domain": ["US+", "US−"], "range": [210, 110]}, "legend": null}}}
    ]
  },
  {
    "width": 16, "height": 98,
    "data": {"values": [{"label": "Extinction"}]},
    "mark": {"type": "text", "angle": 90, "fontSize": 18, "color": "#111111"},
    "encoding": {"text": {"field": "label"}}
  },
  {
    "width": 131, "height": 98,
    "layer": [
      {"data": {"name": "ratings"}, "transform": [{"filter": "datum.phase === 'Extinction' && datum.measure === 'Momentary'"}],
       "mark": {"type": "line", "strokeWidth": 1.8},
       "encoding": {
         "x": {"field": "context", "type": "nominal", "scale": {"type": "point", "domain": ["First", "Second"], "padding": 0.6},
           "axis": {"orient": "bottom", "ticks": true, "tickSize": 9, "labelPadding": 10, "labelAlign": "center", "title": "Referenced context", "titleX": 108, "titlePadding": 17, "domainColor": "#111111", "labelAngle": 0}},
         "y": {"field": "value", "type": "quantitative", "scale": {"domain": [6.95, 11.9], "nice": false, "zero": false}, "axis": null},
         "color": {"field": "valence", "type": "nominal", "scale": {"domain": ["US+", "US−"], "range": ["#3583c0", "#e4222b"]}, "legend": null}}},
      {"data": {"name": "ratings"}, "transform": [{"filter": "datum.phase === 'Extinction' && datum.measure === 'Momentary'"}],
       "mark": {"type": "errorbar", "ticks": {"size": 9}, "thickness": 1.5},
       "encoding": {
         "x": {"field": "context", "type": "nominal", "scale": {"type": "point", "domain": ["First", "Second"], "padding": 0.6}},
         "y": {"field": "lo", "type": "quantitative", "scale": {"domain": [6.95, 11.9], "nice": false, "zero": false}, "axis": null},
         "y2": {"field": "hi"},
         "color": {"field": "valence", "type": "nominal", "scale": {"domain": ["US+", "US−"], "range": ["#3583c0", "#e4222b"]}, "legend": null}}},
      {"data": {"name": "ratings"}, "transform": [{"filter": "datum.phase === 'Extinction' && datum.measure === 'Momentary'"}],
       "mark": {"type": "point", "filled": true, "opacity": 1},
       "encoding": {
         "x": {"field": "context", "type": "nominal", "scale": {"type": "point", "domain": ["First", "Second"], "padding": 0.6}},
         "y": {"field": "value", "type": "quantitative", "scale": {"domain": [6.95, 11.9], "nice": false, "zero": false}, "axis": null},
         "color": {"field": "valence", "type": "nominal", "scale": {"domain": ["US+", "US−"], "range": ["#3583c0", "#e4222b"]}, "legend": null},
         "shape": {"field": "valence", "type": "nominal", "scale": {"domain": ["US+", "US−"], "range": ["triangle-up", "circle"]}, "legend": null},
         "size": {"field": "valence", "type": "ordinal", "scale": {"domain": ["US+", "US−"], "range": [210, 110]}, "legend": null}}}
    ]
  },
  {
    "width": 60, "height": 98,
    "layer": [
      {"data": {"name": "ratings"}, "transform": [{"filter": "datum.phase === 'Extinction' && datum.measure === 'Integrative'"}],
       "mark": {"type": "errorbar", "ticks": {"size": 9}, "thickness": 1.5},
       "encoding": {
         "x": {"field": "context", "type": "nominal", "scale": {"type": "point", "domain": ["None"], "padding": 0.5},
           "axis": {"orient": "bottom", "ticks": true, "tickSize": 9, "labelPadding": 10, "labelAlign": "center", "title": null, "domainColor": "#111111", "labelAngle": 0}},
         "y": {"field": "lo", "type": "quantitative", "scale": {"domain": [6.95, 11.9], "nice": false, "zero": false}},
         "y2": {"field": "hi"},
         "color": {"field": "valence", "type": "nominal", "scale": {"domain": ["US+", "US−"], "range": ["#3583c0", "#e4222b"]}, "legend": null}}},
      {"data": {"name": "ratings"}, "transform": [{"filter": "datum.phase === 'Extinction' && datum.measure === 'Integrative'"}],
       "mark": {"type": "point", "filled": true, "opacity": 1},
       "encoding": {
         "x": {"field": "context", "type": "nominal", "scale": {"type": "point", "domain": ["None"], "padding": 0.5}},
         "y": {"field": "value", "type": "quantitative", "scale": {"domain": [6.95, 11.9], "nice": false, "zero": false},
           "axis": {"orient": "right", "values": [7, 8, 9, 10, 11], "tickCount": 5, "labelOverlap": false, "tickSize": 9, "labelPadding": 13, "title": null}},
         "color": {"field": "valence", "type": "nominal", "scale": {"domain": ["US+", "US−"], "range": ["#3583c0", "#e4222b"]}, "legend": null},
         "shape": {"field": "valence", "type": "nominal", "scale": {"domain": ["US+", "US−"], "range": ["triangle-up", "circle"]}, "legend": null},
         "size": {"field": "valence", "type": "ordinal", "scale": {"domain": ["US+", "US−"], "range": [210, 110]}, "legend": null}}}
    ]
  }
]
}
